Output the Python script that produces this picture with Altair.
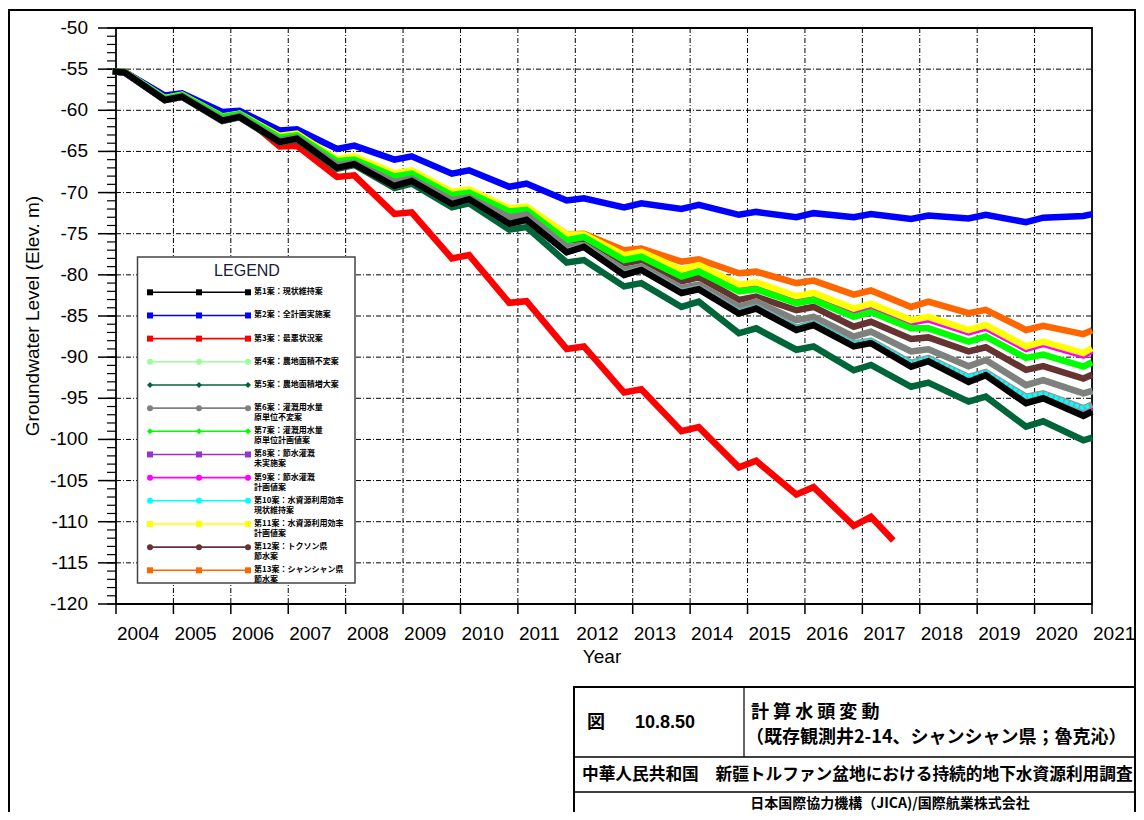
import altair as alt
import pandas as pd

# ---------------- data ----------------
# time points: start, then for each year a seasonal peak (~Feb) and trough (~Nov), end
times = [2004.0, 2004.15, 2004.85, 2005.15, 2005.85, 2006.15, 2006.85, 2007.15, 2007.85,
         2008.15, 2008.85, 2009.15, 2009.85, 2010.15, 2010.85, 2011.15, 2011.85,
         2012.15, 2012.85, 2013.15, 2013.85, 2014.15, 2014.85, 2015.15, 2015.85,
         2016.15, 2016.85, 2017.15, 2017.85, 2018.15, 2018.85, 2019.15, 2019.85,
         2020.15, 2020.85, 2020.95]
times_red = [2004.0, 2004.15, 2004.85, 2005.15, 2005.85, 2006.15, 2006.85, 2007.15, 2007.85,
             2008.15, 2008.85, 2009.15, 2009.85, 2010.15, 2010.85, 2011.15, 2011.85,
             2012.15, 2012.85, 2013.15, 2013.85, 2014.15, 2014.85, 2015.15, 2015.85,
             2016.15, 2016.85, 2017.15, 2017.5]

s1 = [-55.3, -55.4, -58.75, -58.35, -61.25, -60.8, -63.85, -63.45, -67.0, -66.55, -69.2, -68.6,
      -71.4, -70.8, -73.8, -73.3, -77.25, -76.6, -80.0, -79.4, -82.2, -81.75, -84.7, -84.1,
      -86.7, -86.1, -88.7, -88.3, -91.15, -90.5, -93.0, -92.2, -95.6, -95.0, -97.15, -96.8]
s2 = [-55.3, -55.35, -58.2, -57.95, -60.2, -60.05, -62.45, -62.3, -64.7, -64.3, -66.0, -65.6,
      -67.7, -67.3, -69.3, -68.9, -70.95, -70.7, -71.8, -71.3, -72.0, -71.5, -72.7, -72.35,
      -73.0, -72.5, -73.0, -72.6, -73.2, -72.8, -73.15, -72.7, -73.6, -73.05, -72.85, -72.7]
s3 = [-55.3, -55.35, -58.4, -58.05, -60.5, -60.3, -64.4, -64.3, -68.1, -67.9, -72.6, -72.4,
      -78.0, -77.6, -83.4, -83.2, -89.0, -88.7, -94.3, -93.9, -99.0, -98.5, -103.4, -102.6,
      -106.7, -105.8, -110.5, -109.4, -112.0]
s4 = [-55.3, -55.4, -58.7, -58.3, -61.1, -60.7, -63.65, -63.3, -66.65, -66.4, -68.7, -68.3,
      -70.9, -70.6, -73.0, -72.7, -76.6, -76.4, -79.4, -79.0, -81.6, -81.2, -83.9, -83.25,
      -85.5, -85.1, -87.5, -86.9, -89.3, -89.05, -91.1, -90.35, -93.4, -92.8, -94.4, -94.2]
s5 = [-55.3, -55.4, -58.75, -58.35, -61.3, -60.85, -63.9, -63.55, -67.1, -66.65, -69.45, -68.9,
      -71.8, -71.3, -74.5, -74.2, -78.5, -78.2, -81.4, -81.0, -83.9, -83.25, -87.1, -86.5,
      -89.1, -88.7, -91.6, -90.95, -93.6, -93.1, -95.4, -94.8, -98.45, -97.8, -100.1, -99.9]
s6 = [-55.3, -55.4, -58.7, -58.3, -61.1, -60.7, -63.65, -63.3, -66.65, -66.4, -68.7, -68.3,
      -70.9, -70.6, -73.0, -72.7, -76.6, -76.4, -79.4, -79.0, -81.6, -81.2, -83.9, -83.25,
      -85.5, -85.1, -87.5, -86.9, -89.3, -89.05, -91.1, -90.35, -93.4, -92.8, -94.4, -94.2]
s7 = [-55.3, -55.35, -58.55, -58.15, -60.8, -60.45, -63.3, -63.05, -66.2, -66.0, -68.05, -67.7,
      -70.3, -70.0, -72.3, -72.1, -75.8, -75.4, -78.2, -77.8, -80.2, -79.6, -82.0, -81.75,
      -83.45, -83.05, -85.1, -84.5, -86.5, -86.5, -88.1, -87.5, -90.1, -89.7, -91.15, -90.8]
s8 = [-55.3, -55.4, -58.75, -58.35, -61.25, -60.8, -63.85, -63.45, -67.0, -66.55, -69.2, -68.6,
      -71.4, -70.8, -73.8, -73.3, -77.25, -76.6, -80.0, -79.35, -82.1, -81.7, -84.6, -84.0,
      -86.55, -86.0, -88.55, -88.2, -90.95, -90.35, -92.75, -92.05, -95.25, -94.75, -96.55, -96.25]
s9 = [-55.3, -55.35, -58.6, -58.2, -60.85, -60.5, -63.25, -62.95, -66.1, -65.8, -67.85, -67.5,
      -70.1, -69.8, -72.15, -71.95, -75.35, -75.35, -77.9, -77.5, -79.7, -79.1, -81.5, -81.2,
      -82.9, -82.5, -84.4, -83.8, -85.8, -85.4, -87.0, -86.4, -89.0, -88.4, -89.8, -89.4]
s10 = [-55.3, -55.4, -58.75, -58.35, -61.25, -60.8, -63.85, -63.45, -67.0, -66.55, -69.2, -68.6,
       -71.4, -70.8, -73.8, -73.3, -77.15, -76.5, -79.85, -79.3, -82.0, -81.6, -84.45, -83.9,
       -86.4, -85.85, -88.35, -88.0, -90.7, -90.1, -92.4, -91.8, -94.8, -94.4, -96.2, -95.9]
s11 = [-55.3, -55.35, -58.5, -58.1, -60.75, -60.4, -63.1, -62.85, -65.95, -65.6, -67.65, -67.3,
       -69.9, -69.6, -71.9, -71.7, -75.1, -75.1, -77.6, -77.2, -79.4, -78.8, -81.2, -80.9,
       -82.6, -82.2, -84.1, -83.5, -85.5, -85.1, -86.7, -86.1, -88.7, -88.1, -89.5, -89.1]
s12 = [-55.3, -55.4, -58.7, -58.3, -61.1, -60.7, -63.55, -63.2, -66.5, -66.2, -68.5, -68.1,
       -70.7, -70.3, -73.0, -72.6, -76.4, -76.1, -78.8, -78.4, -80.8, -80.3, -83.05, -82.65,
       -84.3, -83.9, -86.3, -85.7, -87.8, -87.6, -89.3, -88.8, -91.55, -91.1, -92.6, -92.3]
s13 = [-55.3, -55.35, -58.55, -58.15, -60.8, -60.45, -63.15, -62.9, -66.05, -65.7, -67.75, -67.4,
       -70.0, -69.7, -72.0, -71.8, -75.1, -75.0, -77.0, -76.8, -78.4, -78.1, -79.8, -79.6,
       -81.0, -80.7, -82.4, -81.9, -83.9, -83.25, -84.65, -84.25, -86.7, -86.2, -87.2, -86.9]

names = ["第1案", "第2案", "第3案", "第4案", "第5案", "第6案", "第7案",
         "第8案", "第9案", "第10案", "第11案", "第12案", "第13案"]
values = [s1, s2, s3, s4, s5, s6, s7, s8, s9, s10, s11, s12, s13]
colors = ["#000000", "#0000FF", "#FF0000", "#99FF99", "#00663A", "#808080", "#00FF00",
          "#9933CC", "#FF00FF", "#00FFFF", "#FFFF00", "#663333", "#FF6600"]
shapes = ["square", "square", "square", "circle", "diamond", "circle", "diamond",
          "square", "circle", "circle", "square", "circle", "square"]
labels = [
    "第1案：現状維持案",
    "第2案：全計画実施案",
    "第3案：最悪状況案",
    "第4案：農地面積不変案",
    "第5案：農地面積増大案",
    "第6案：灌漑用水量\n\u3000\u3000\u3000 原単位不変案",
    "第7案：灌漑用水量\n\u3000\u3000\u3000 原単位計画値案",
    "第8案：節水灌漑\n\u3000\u3000\u3000 未実施案",
    "第9案：節水灌漑\n\u3000\u3000\u3000 計画値案",
    "第10案：水資源利用効率\n\u3000\u3000\u3000\u3000現状維持案",
    "第11案：水資源利用効率\n\u3000\u3000\u3000\u3000計画値案",
    "第12案：トクソン県\n\u3000\u3000\u3000 節水案",
    "第13案：シャンシャン県\n\u3000\u3000\u3000 節水案",
]
draw_order = [12, 11, 3, 7, 8, 2, 1, 4, 10, 6, 5, 9, 0]   # indices into names

y_major = list(range(-120, -49, 5))
y_major_labels = [str(v) for v in y_major]
y_minor = list(range(-120, -49, 1))
x_years = list(range(2004, 2022))
x_labels = [str(v) for v in x_years]
x_grid = list(range(2005, 2021))
y_grid = list(range(-115, -50, 5))

# ---------------- frames ----------------
rows = []
for i, nm in enumerate(names):
    ts = times_red if nm == "第3案" else times
    for t, v in zip(ts, values[i]):
        rows.append({"name": nm, "t": t, "v": v})
df = pd.DataFrame(rows)
legend_df = pd.DataFrame({"row": list(range(13)), "name": names, "label": labels})
one = pd.DataFrame({"k": [0]})
ymaj_df = pd.DataFrame({"v": y_major, "lab": y_major_labels})
ymin_df = pd.DataFrame({"v": y_minor})
ygrid_df = pd.DataFrame({"v": y_grid})
xmaj_df = pd.DataFrame({"t": x_years, "lab": x_labels})
xgrid_df = pd.DataFrame({"t": x_grid})

FONT = "Liberation Sans"
JP = "Noto Sans CJK JP"
W, H = 976, 576

xscale = alt.Scale(domain=[2004, 2021], nice=False, zero=False)
yscale = alt.Scale(domain=[-120, -50], nice=False, zero=False)
X = alt.X("t:Q", scale=xscale, axis=None)
Y = alt.Y("v:Q", scale=yscale, axis=None)

layers = []

# ---------------- grid, ticks and tick labels ----------------
DASH = [5, 2, 1, 2]
layers.append(alt.Chart(ygrid_df).mark_rule(color="#000000", strokeWidth=1, strokeDash=DASH)
              .encode(y=Y, x=alt.value(0), x2=alt.value(W)))
layers.append(alt.Chart(xgrid_df).mark_rule(color="#000000", strokeWidth=1, strokeDash=DASH)
              .encode(x=X, y=alt.value(0), y2=alt.value(H)))
layers.append(alt.Chart(ymaj_df).mark_rule(color="#000000", strokeWidth=1.5)
              .encode(y=Y, x=alt.value(-18), x2=alt.value(0)))
layers.append(alt.Chart(ymin_df).mark_rule(color="#000000", strokeWidth=1.2)
              .encode(y=Y, x=alt.value(-9), x2=alt.value(0)))
layers.append(alt.Chart(xmaj_df).mark_rule(color="#000000", strokeWidth=1.5)
              .encode(x=X, y=alt.value(H), y2=alt.value(H + 10)))
layers.append(alt.Chart(ymaj_df).mark_text(align="right", baseline="middle", font=FONT,
                                           fontSize=19, color="#000000")
              .encode(y=Y, x=alt.value(-28), text="lab:N"))
layers.append(alt.Chart(xmaj_df).mark_text(align="left", baseline="middle", font=FONT,
                                           fontSize=19, color="#000000", dx=1)
              .encode(x=X, y=alt.value(H + 30), text="lab:N"))
layers.append(alt.Chart(one).mark_text(text="Year", font=FONT, fontSize=19, align="center",
                                       baseline="middle", color="#000000")
              .encode(x=alt.value(486), y=alt.value(H + 53)))
layers.append(alt.Chart(one).mark_text(text="Groundwater Level (Elev. m)", font=FONT,
                                       fontSize=19, align="center", baseline="middle",
                                       angle=270, color="#000000")
              .encode(x=alt.value(-83), y=alt.value(288)))

# ---------------- legend box ----------------
rowY = alt.Y("row:Q", scale=alt.Scale(domain=[0, 12], range=[264.3, 542.3]), axis=None)
colorEnc = alt.Color("name:N", scale=alt.Scale(domain=names, range=colors), legend=None)
shapeEnc = alt.Shape("name:N", scale=alt.Scale(domain=names, range=shapes), legend=None)

layers.append(alt.Chart(one).mark_rect(fill="white", stroke="#444444", strokeWidth=1.5).encode(
    x=alt.value(21.5), x2=alt.value(239), y=alt.value(229), y2=alt.value(555)))

# ---------------- series ----------------
for idx in draw_order:
    nm = names[idx]
    sub = alt.Chart(df).transform_filter(alt.datum.name == nm)
    if nm == "第10案":
        layers.append(sub.mark_line(color="#8c9c9c", strokeWidth=6.5, strokeJoin="miter",
                                    strokeCap="square").encode(x=X, y=Y))
        layers.append(sub.mark_line(color=colors[idx], strokeWidth=4, strokeDash=[4, 1.5])
                      .encode(x=X, y=Y))
    else:
        layers.append(sub.mark_line(color=colors[idx], strokeWidth=6.5, strokeJoin="miter",
                                    strokeCap="square").encode(x=X, y=Y))

# ---------------- legend contents ----------------
layers.append(alt.Chart(one).mark_text(text="LEGEND", font=FONT, fontSize=16, color="#1a1a40",
                                       align="center", baseline="middle").encode(
    x=alt.value(131), y=alt.value(243)))
leg = alt.Chart(legend_df)
layers.append(leg.mark_rule(strokeWidth=1.6).encode(x=alt.value(34), x2=alt.value(132), y=rowY,
                                                    color=colorEnc))
for px in (34, 83, 132):
    layers.append(leg.mark_point(filled=True, size=36, opacity=1).encode(
        x=alt.value(px), y=rowY, color=colorEnc, shape=shapeEnc))
layers.append(leg.mark_text(align="left", baseline="middle", font=JP, fontSize=8,
                            fontWeight="bold", lineBreak="\n", lineHeight=10,
                            color="#000000").encode(x=alt.value(138), y=rowY, text="label:N"))

# ---------------- outer frame and title block ----------------
def rect(x, x2, y, y2, w=1.5):
    return alt.Chart(one).mark_rect(fillOpacity=0, stroke="#000000", strokeWidth=w).encode(
        x=alt.value(x), x2=alt.value(x2), y=alt.value(y), y2=alt.value(y2))

def hline(x, x2, y, w=1.5):
    return alt.Chart(one).mark_rule(color="#000000", strokeWidth=w).encode(
        x=alt.value(x), x2=alt.value(x2), y=alt.value(y))

def vline(x, y, y2, w=1.2):
    return alt.Chart(one).mark_rule(color="#000000", strokeWidth=w).encode(
        x=alt.value(x), y=alt.value(y), y2=alt.value(y2))

def label(txt, x, y, size, font=JP, align="left", weight="bold"):
    return alt.Chart(one).mark_text(text=txt, font=font, fontSize=size, fontWeight=weight,
                                    align=align, baseline="middle", color="#000000").encode(
        x=alt.value(x), y=alt.value(y))

layers += [
    rect(-107, 1019, -18, 800, 2),
    rect(458, 1019, 659, 800, 2),
    vline(628, 659, 729),
    hline(458, 1019, 729),
    hline(458, 1019, 764),
    label("図", 471, 695, 18),
    label("10.8.50", 519, 695, 18, font=FONT),
    label("計 算 水 頭 変 動", 635, 685, 18),
    label("（既存観測井2-14、シャンシャン県；魯克沁）", 630, 710, 18),
    label("中華人民共和国\u3000新疆トルファン盆地における持続的地下水資源利用調査", 466, 747, 16.7),
    label("日本国際協力機構（JICA)/国際航業株式会社", 774, 776, 14, align="center"),
]

chart = alt.layer(*layers).resolve_scale(y="independent").properties(
    width=W, height=H,
    padding={"left": 108, "top": 20, "right": 44, "bottom": 208},
    autosize=alt.AutoSizeParams(type="none"),
    background="white",
).configure_view(stroke="#000000", strokeWidth=1.8)

chart.save("out.html", embed_options={"renderer": "svg", "actions": False})
